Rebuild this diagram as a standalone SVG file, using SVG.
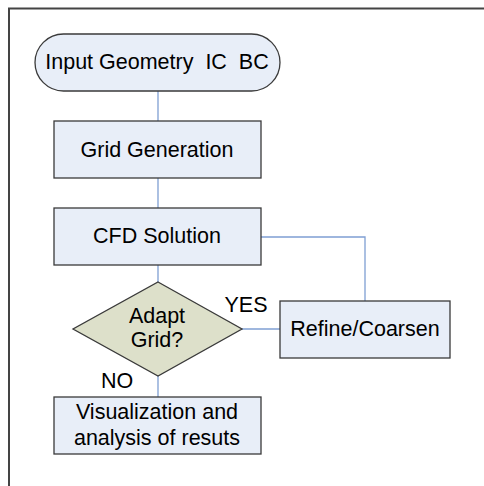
<svg xmlns="http://www.w3.org/2000/svg" width="484" height="486" viewBox="0 0 484 486">
<style>
.box{fill:#E8EEF8;stroke:#3a3a3a;stroke-width:1.3}
.dia{fill:#DDE0CA;stroke:#3a3a3a;stroke-width:1.3}
.t{font-family:"Liberation Sans",Arial,sans-serif;font-size:21.5px;fill:#000;text-anchor:middle;white-space:pre}
.c{fill:none;stroke:#7F9FD3;stroke-width:1.3}
</style>
<rect width="484" height="486" fill="#fff"/>
<path d="M9,486 V8.5 H484" fill="none" stroke="#444" stroke-width="2"/>
<g id="connectors">
<path class="c" d="M158,91 V121"/>
<path class="c" d="M158,178 V208"/>
<path class="c" d="M158,265 V282"/>
<path class="c" d="M261,237 H365 V301"/>
<path class="c" d="M242,329 H280"/>
<path class="c" d="M158,376 V397"/>
</g>
<g id="start">
<rect class="box" x="35" y="34" width="245" height="57" rx="28.5" ry="28.5"/>
<text class="t" x="157" y="69" xml:space="preserve">Input Geometry  IC  BC</text>
</g>
<g id="grid">
<rect class="box" x="54" y="121" width="207" height="57"/>
<text class="t" x="157" y="157">Grid Generation</text>
</g>
<g id="cfd">
<rect class="box" x="54" y="208" width="207" height="57"/>
<text class="t" x="157" y="243">CFD Solution</text>
</g>
<g id="adapt">
<polygon class="dia" points="158,282 242,329 158,376 73,329"/>
<text class="t" x="157" y="323">Adapt</text>
<text class="t" x="157" y="347">Grid?</text>
</g>
<g id="refine">
<rect class="box" x="280" y="301" width="170" height="57"/>
<text class="t" x="365" y="336">Refine/Coarsen</text>
</g>
<g id="vis">
<rect class="box" x="54" y="397" width="207" height="57"/>
<text class="t" x="157" y="419">Visualization and</text>
<text class="t" x="157" y="445">analysis of resuts</text>
</g>
<text class="t" x="246" y="312">YES</text>
<text class="t" x="117" y="388">NO</text>
</svg>
